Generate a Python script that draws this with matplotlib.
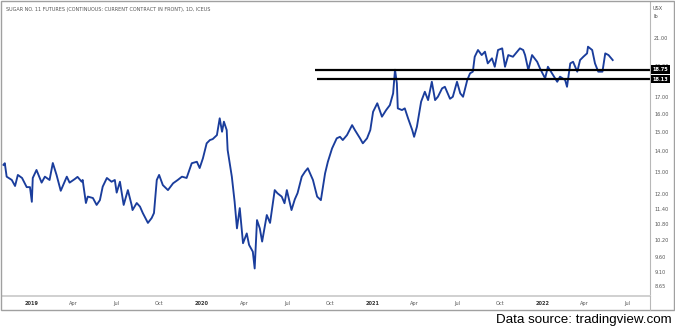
import matplotlib
matplotlib.use("Agg")
import matplotlib.pyplot as plt
import matplotlib.dates as mdates
import matplotlib.transforms as mtransforms
from matplotlib.lines import Line2D
from matplotlib.patches import Rectangle
from matplotlib.ticker import FixedLocator, NullLocator, NullFormatter
from datetime import datetime

# ---------------------------------------------
# Sugar No. 11 daily closes (USX / lb)
# ---------------------------------------------
dates = [
    "2018-11-01", "2018-11-04", "2018-11-08", "2018-11-19", "2018-11-26", "2018-12-02",
    "2018-12-11", "2018-12-21", "2018-12-28", "2019-01-01", "2019-01-03", "2019-01-11",
    "2019-01-22", "2019-01-29", "2019-02-08", "2019-02-15", "2019-02-23", "2019-03-04",
    "2019-03-17", "2019-03-23", "2019-04-03", "2019-04-09", "2019-04-18", "2019-04-20",
    "2019-04-27", "2019-05-01", "2019-05-12", "2019-05-20", "2019-05-27", "2019-06-02",
    "2019-06-11", "2019-06-21", "2019-06-28", "2019-07-02", "2019-07-09", "2019-07-17",
    "2019-07-26", "2019-08-03", "2019-08-05", "2019-08-14", "2019-08-21", "2019-08-27",
    "2019-09-07", "2019-09-15", "2019-09-20", "2019-09-26", "2019-10-01", "2019-10-09",
    "2019-10-20", "2019-10-31", "2019-11-10", "2019-11-19", "2019-11-29", "2019-12-10",
    "2019-12-21", "2019-12-27", "2020-01-03", "2020-01-11", "2020-01-18", "2020-01-24",
    "2020-02-02", "2020-02-08", "2020-02-13", "2020-02-17", "2020-02-23", "2020-02-25",
    "2020-03-05", "2020-03-11", "2020-03-16", "2020-03-22", "2020-03-29", "2020-04-06",
    "2020-04-11", "2020-04-19", "2020-04-23", "2020-04-28", "2020-05-04", "2020-05-09",
    "2020-05-19", "2020-05-26", "2020-06-05", "2020-06-11", "2020-06-20", "2020-06-26",
    "2020-07-01", "2020-07-11", "2020-07-18", "2020-07-24", "2020-08-02", "2020-08-09",
    "2020-08-15", "2020-08-26", "2020-09-04", "2020-09-12", "2020-09-21", "2020-09-27",
    "2020-10-06", "2020-10-16", "2020-10-23", "2020-10-29", "2020-11-07", "2020-11-18",
    "2020-11-24", "2020-12-05", "2020-12-11", "2020-12-20", "2020-12-27", "2021-01-02",
    "2021-01-11", "2021-01-21", "2021-01-30", "2021-02-07", "2021-02-14", "2021-02-18",
    "2021-02-22", "2021-02-24", "2021-03-05", "2021-03-11", "2021-03-18", "2021-03-27",
    "2021-03-31", "2021-04-06", "2021-04-15", "2021-04-23", "2021-04-30", "2021-05-08",
    "2021-05-15", "2021-05-21", "2021-05-30", "2021-06-05", "2021-06-16", "2021-06-22",
    "2021-07-01", "2021-07-08", "2021-07-14", "2021-07-23", "2021-07-29", "2021-08-04",
    "2021-08-08", "2021-08-15", "2021-08-23", "2021-08-30", "2021-09-05", "2021-09-14",
    "2021-09-20", "2021-09-27", "2021-10-06", "2021-10-12", "2021-10-19", "2021-10-29",
    "2021-11-07", "2021-11-13", "2021-11-20", "2021-11-24", "2021-12-01", "2021-12-09",
    "2021-12-20", "2021-12-26", "2022-01-06", "2022-01-12", "2022-01-23", "2022-02-01",
    "2022-02-07", "2022-02-18", "2022-02-22", "2022-03-01", "2022-03-07", "2022-03-16",
    "2022-03-22", "2022-03-29", "2022-04-06", "2022-04-08", "2022-04-17", "2022-04-23",
    "2022-04-30", "2022-05-09", "2022-05-15", "2022-05-22", "2022-05-31",
]
prices = [
    13.34, 13.42, 12.79, 12.64, 12.37, 12.87,
    12.73, 12.32, 12.32, 11.69, 12.73, 13.10,
    12.52, 12.79, 12.64, 13.43, 12.87, 12.16,
    12.79, 12.52, 12.68, 12.78, 12.56, 12.64,
    11.64, 11.91, 11.85, 11.56, 11.76, 12.34,
    12.73, 12.56, 12.64, 12.08, 12.56, 11.56,
    12.19, 11.56, 11.35, 11.64, 11.49, 11.23,
    10.84, 11.03, 11.23, 12.64, 12.87, 12.41,
    12.19, 12.49, 12.64, 12.79, 12.73, 13.42,
    13.49, 13.19, 13.66, 14.41, 14.58, 14.63,
    14.84, 15.76, 15.02, 15.57, 15.11, 14.07,
    12.79, 11.69, 10.63, 11.43, 10.08, 10.44,
    10.02, 9.78, 9.21, 10.95, 10.63, 10.14,
    11.15, 10.84, 12.19, 12.05, 11.91, 11.63,
    12.19, 11.35, 11.79, 12.06, 12.79, 13.02,
    13.18, 12.64, 11.91, 11.76, 12.94, 13.49,
    14.15, 14.67, 14.75, 14.58, 14.84, 15.38,
    15.11, 14.67, 14.41, 14.67, 15.11, 16.13,
    16.63, 15.85, 16.23, 16.52, 17.23, 18.75,
    17.86, 16.33, 16.23, 16.33, 15.76, 15.11,
    14.75, 15.29, 16.72, 17.33, 16.82, 17.96,
    16.82, 17.02, 17.54, 17.64, 16.90, 17.02,
    17.96, 17.23, 17.02, 18.07, 18.51, 18.62,
    19.64, 20.12, 19.76, 20.00, 19.18, 19.53,
    18.95, 20.12, 20.24, 18.95, 19.76, 19.64,
    20.00, 20.24, 20.12, 19.76, 18.73, 19.76,
    19.29, 18.84, 18.18, 18.95, 18.40, 17.96,
    18.29, 18.07, 17.64, 19.18, 19.29, 18.62,
    19.41, 19.64, 19.88, 20.36, 20.12, 19.18,
    18.62, 18.62, 19.88, 19.76, 19.41,
]

# support / resistance levels
levels = [18.75, 18.13]
level_starts = ["2020-08-30", "2020-09-04"]

y_ticks = [21.00, 19.00, 17.00, 16.00, 15.00, 14.00, 13.00, 12.00,
           11.40, 10.80, 10.20, 9.60, 9.10, 8.65]
x_tick_dates = ["2019-01-01", "2019-04-01", "2019-07-01", "2019-10-01",
                "2020-01-01", "2020-04-01", "2020-07-01", "2020-10-01",
                "2021-01-01", "2021-04-01", "2021-07-01", "2021-10-01",
                "2022-01-01", "2022-04-01", "2022-07-01"]
x_tick_labels = ["2019", "Apr", "Jul", "Oct", "2020", "Apr", "Jul", "Oct",
                 "2021", "Apr", "Jul", "Oct", "2022", "Apr", "Jul"]

LINE = "#1a3d9c"
GREY = "#555555"
W, H = 675, 330

def to_num(s):
    return mdates.date2num(datetime.strptime(s, "%Y-%m-%d"))

x = [to_num(d) for d in dates]

fig = plt.figure(figsize=(W / 100, H / 100), dpi=100)
ax = fig.add_axes([2 / W, 34 / H, 648 / W, 294 / H])

ax.plot(x, prices, color=LINE, lw=1.35, solid_joinstyle="round")

for lvl, start in zip(levels, level_starts):
    ax.hlines(lvl, to_num(start), to_num("2022-08-19"), color="black", lw=1.6)

ax.set_yscale("log")
ax.set_ylim(8.346, 23.89)
ax.set_xlim(to_num("2018-10-29"), to_num("2022-08-19"))

# right price scale
ax.yaxis.tick_right()
ax.yaxis.set_major_locator(FixedLocator(y_ticks))
ax.yaxis.set_minor_locator(NullLocator())
ax.yaxis.set_minor_formatter(NullFormatter())
ax.set_yticklabels([f"{v:.2f}" for v in y_ticks])
ax.tick_params(axis="y", length=0, pad=3, labelsize=3.6, labelcolor=GREY)

# time scale
ax.set_xticks([to_num(d) for d in x_tick_dates])
ax.set_xticklabels(x_tick_labels)
ax.tick_params(axis="x", length=0, pad=3.5, labelsize=3.6, labelcolor=GREY)
for lab in ax.get_xticklabels():
    if lab.get_text().isdigit():
        lab.set_fontweight("bold")
        lab.set_color("#333333")

for side in ["top", "left"]:
    ax.spines[side].set_visible(False)
ax.spines["right"].set_color("#b8b8b8")
ax.spines["right"].set_linewidth(0.8)
ax.spines["bottom"].set_color("#d0d0d0")
ax.spines["bottom"].set_linewidth(1.4)

# level tags on the price scale (drawn over the scale labels)
trans = mtransforms.blended_transform_factory(ax.transAxes, ax.transData)
for lvl in levels:
    ax.text(1.004, lvl, f"{lvl:.2f}", transform=trans, ha="left", va="center",
            fontsize=3.6, color="white", fontweight="bold", zorder=10,
            bbox=dict(boxstyle="square,pad=0.35", fc="black", ec="none"))

# currency unit
fig.text(653 / W, 1 - 8 / H, "USX", fontsize=3.6, color=GREY, va="center")
fig.text(653 / W, 1 - 17 / H, "lb", fontsize=3.6, color=GREY, va="center")

# title
fig.text(6 / W, 1 - 10 / H,
         "SUGAR NO. 11 FUTURES (CONTINUOUS: CURRENT CONTRACT IN FRONT), 1D, ICEUS",
         fontsize=3.55, color=GREY, va="center")

# outer frame and price-scale divider down through the time scale
fig.patches.append(Rectangle((1 / W, 1 - 310 / H), 673 / W, 309 / H,
                             transform=fig.transFigure, fill=False,
                             ec="#a0a0a0", lw=1.0))
fig.lines.append(Line2D([650 / W, 650 / W], [1 - 310 / H, 1 - 296 / H],
                        transform=fig.transFigure, color="#b8b8b8", lw=0.8))

fig.text(672 / W, 1 - 320 / H, "Data source: tradingview.com",
         family="Liberation Sans", fontsize=9.6, color="black",
         ha="right", va="center")

fig.savefig("out.png", dpi=100)
